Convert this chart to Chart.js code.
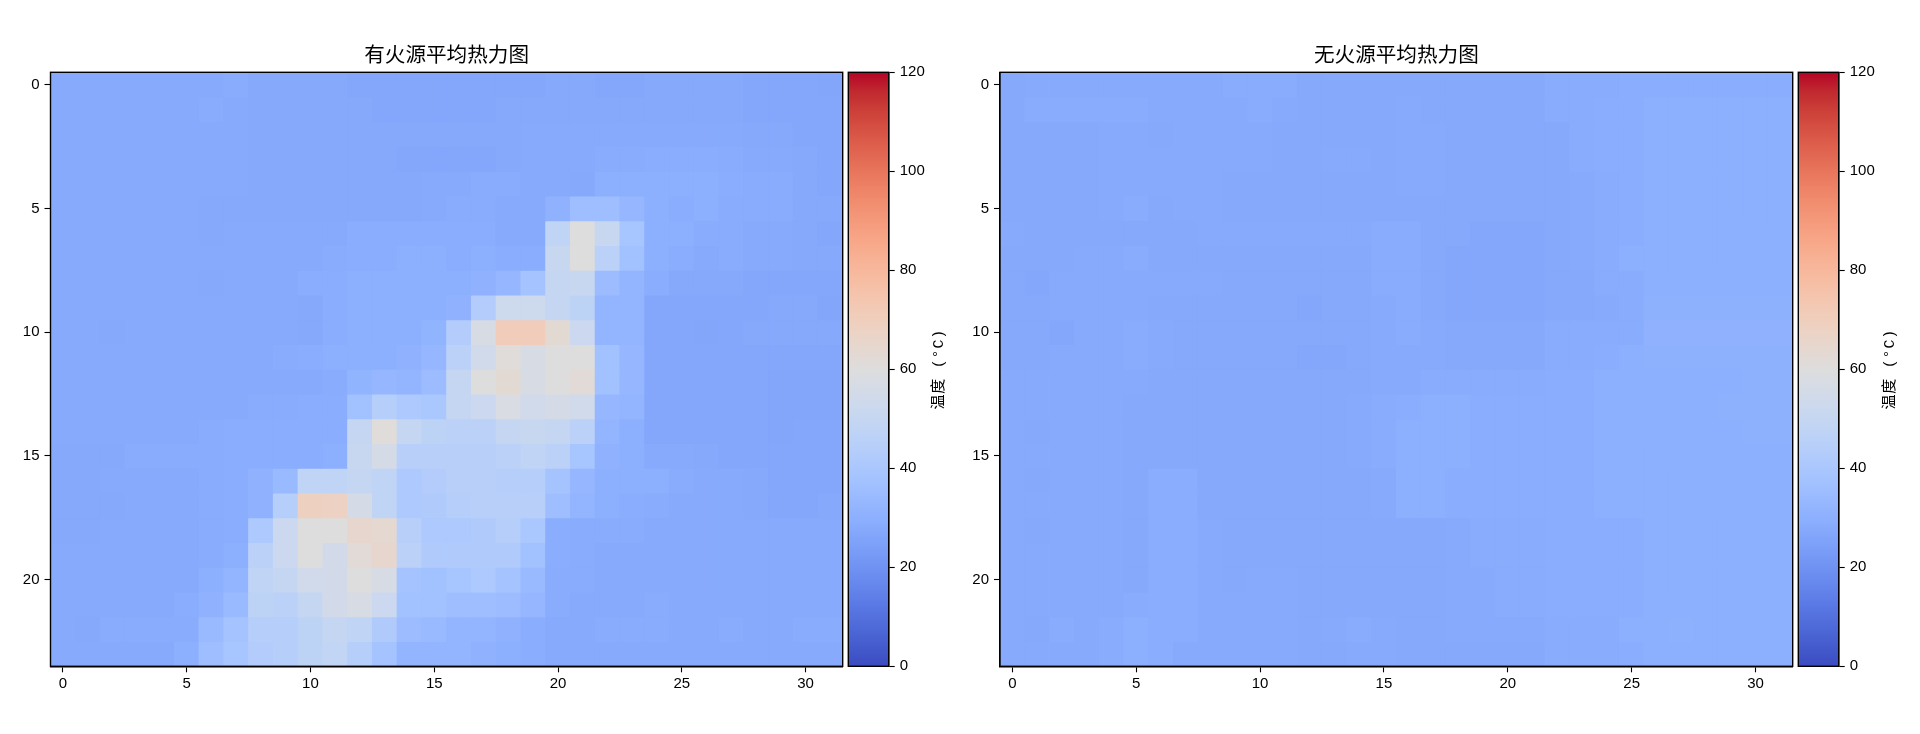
<!DOCTYPE html>
<html><head><meta charset="utf-8">
<script src="https://cdn.jsdelivr.net/npm/chart.js@4"></script>
<style>
html,body{margin:0;padding:0;background:#fff;width:1920px;height:734px;overflow:hidden}
canvas{position:absolute;top:0}
</style></head><body>
<canvas id="fireMap" style="left:0;width:846px;height:734px" width="846" height="734"></canvas>
<canvas id="fireBar" style="left:846px;width:114px;height:734px" width="114" height="734"></canvas>
<canvas id="noFireMap" style="left:960px;width:836px;height:734px" width="836" height="734"></canvas>
<canvas id="noFireBar" style="left:1796px;width:124px;height:734px" width="124" height="734"></canvas>
<script>
const fireTitle = '有火源平均热力图';
const noFireTitle = '无火源平均热力图';
const colorbarLabel = '温度 (°C)';
const xCategories = Array.from({length:32},(_,i)=>String(i));
const xTickValues = [0,5,10,15,20,25,30];
const yTickValues = [0,5,10,15,20];
const colorbarTicks = [0,20,40,60,80,100,120];
const tempMin = 0, tempMax = 120;
const coolwarm = [[59,76,192],[68,90,204],[77,104,215],[87,117,225],[98,130,234],[108,142,241],[119,154,247],[130,165,251],[141,176,254],[152,185,255],[163,194,255],[174,201,253],[184,208,249],[194,213,244],[204,217,238],[213,219,230],[221,221,221],[229,216,209],[236,211,197],[241,204,185],[245,196,173],[247,187,160],[247,177,148],[247,166,135],[244,154,123],[241,141,111],[236,127,99],[229,112,88],[222,96,77],[213,80,66],[203,62,56],[192,40,47],[180,4,38]];

const fireRows = [
[28,28,28,28,28,28,28,28.5,27.5,27.5,27.5,27.5,27,27,27,27,27,27,27,27,27.5,27.5,27,27,27.5,27.5,27.5,27.5,27,27,27,26.5],
[28,28,28,28,28,28,28.5,28,27.5,27.5,27.5,27.5,27.5,27,27,27,27,27,27.5,27.5,27.5,27.5,27.5,27.5,27.5,27.5,27.5,27.5,27,27,27,27],
[28,28,28,28,28,28,28,28,27.5,27.5,27.5,27.5,27.5,27.5,27.5,27.5,27.5,27.5,27.5,28,28,28,28,28,28,28,28,28,27.5,27.5,27,27],
[28,28,28,28,28,28,28,28,27.5,27.5,27.5,27.5,27.5,27.5,27,27,27,27,27.5,28,28,28,28.5,28.5,29,29,29,28.5,28,28,27.5,27],
[28,28,28,28,28,28,28,28,27.5,27.5,27.5,27.5,27.5,27.5,27.5,28,28,28.5,28.5,28,28,27.5,29.5,29.5,29.5,29.5,29.5,29,28.5,28.5,27.5,27],
[28,28,28,28,28,28,27.5,27.5,27.5,27.5,27.5,27.5,27.5,27.5,27.5,28,28.5,28.5,28,28,31,36,36,33,29.5,29,29.5,28.5,28.5,28.5,27.5,27.5],
[28,28,28,28,28,28,27.5,28,28,28,28,28,29,29,29,29,29,29,28,28,48,60,51,39,29.5,29.5,28.5,28.5,28,28,27.5,27],
[28,28,28,28,28,28,28,28,28,28,28,28.5,29,29,29.5,29.5,29,29.5,29,29,51,60,46,37,29.5,29,28,28.5,28,28,27.5,27.5],
[28,28,28,28,28,28,27.5,28,28,28,29,29,29.5,29.5,30,30,30,31,33,38,50,51,35,32,29,27.5,27.5,27.5,27,27,27,27],
[28,28,28,28,28,28,28,28,28,28,27.5,29,29.5,29.5,30,30,31,43,53,53,50,47,32,32,27,27,27,27,27,27.5,27.5,26.5],
[28,28,27.5,28,28,28,28,28,28,28,27.5,29,29.5,29.5,30,31.5,43,57,71,71,63,52,32,32,27,27,26.5,27,27.5,27.5,27.5,27.5],
[28,28,28,28,28,28,28,28,28,28.5,29,29.5,29.5,30,31,33,46,54,61,57,60,60,37,33,27,27,27,27,27,27,27,27],
[28,28,28,28,28,28,28,28,28,28,28,28.5,31.5,33,32,35,50,60,63,57,60,62,37,33,27,27,27,27,27,26.5,26.5,26.5],
[28,28,28,28,28,28,28,28,28.5,28.5,29,29,37,44,41,40,50,52,58,54,56,54,33,32,27,27,27,27,27,26.5,26.5,26.5],
[28,28,28,28,28,28,28.5,29,29,29,29,29,50,61,50,47,46,46,50,51,50,46,32,30,27,27,27,27,27,26.5,27,27],
[27.5,27.5,27.5,28.5,28.5,28.5,28.5,29,29,29,29,29.5,51,56,45,45,45,45,46,48,46,39,31,30,28,28,27.5,27,27,27,27,27],
[27.5,27.5,28,28,28,28,28.5,29,31,34,48,48,50,48,41,43,45,45,44,44,38,33,29.5,29.5,29.5,28.5,28,28,27.5,27,27,27],
[27.5,27.5,27.5,28,28,28,28.5,29,31,44,69,68,56,48,41,42,44,45,45,45,36,32,29.5,29,28.5,28,28,28,27.5,27,27,27.5],
[27.5,27.5,28,28,28,28,28.5,29,41,52,60,60,65,64,45,41,41,42,44,40,29,28.5,28.5,28.5,28,28,28,28,28,28,28,28],
[28,28,28,28,28,28,28.5,29.5,46,52,60,55,62,65,46,42,42,42,42,37,29,28.5,28,28,28,28,28,28,28,28,28,28],
[28,28,28,28,28,28,30,32,48,50,54,55,60,57,38,37,39,41,38,34,28.5,28.5,28,28,28,28,28,28,28,28,28,28],
[28,28,28,28,28,29,31,34,47,46,50,55,57,52,37,37,36,36,35,33,28.5,28,28,28,28.5,28,28,28,28,28,28,28],
[28,27.5,28.5,28.5,28.5,28.5,34,38,44,44,47,50,48,42,35,34,32,32,31,29,28,28,28.5,28.5,28.5,28,28,28.5,28,28,28.5,28.5],
[28,28,28,28,28,29.5,36,39,43,44,47,49,44,38,32,32,32,31,30,29,28,28,28,28,28,28,28,28,28,28,28,28]
];

const noFireRows = [
[27.5,28,28,28,28,28,28,28,28,28.5,28.5,28.5,27.5,27.5,27.5,27.5,27.5,27.5,27.5,27.5,27.5,27.5,28.5,28.5,28.5,29,29,29,29,29,29,29],
[27.5,28.5,28.5,28.5,28.5,28.5,28,28,28,28,28.5,28,27.5,27.5,27.5,27.5,28,27.5,27.5,27.5,27.5,27.5,28.5,28.5,29,29,29.5,29.5,29.5,29.5,29.5,29.5],
[27.5,27.5,27.5,27.5,28,28,27.5,28,28,28,28,27.5,27.5,27.5,27.5,27.5,28,28,27.5,27.5,27.5,27.5,27.5,28.5,29,29,29.5,29.5,29.5,29.5,29.5,29.5],
[27.5,27.5,27.5,27.5,28,28,28,28,28,28,28,27.5,27.5,28,28,27.5,28,28,27.5,27.5,27.5,27.5,27.5,28.5,29,29,29.5,29.5,29.5,29.5,29.5,29.5],
[27.5,27.5,27.5,27.5,28,28,28,28,28,27.5,27.5,27.5,27.5,27.5,27.5,27.5,28,28,27.5,27.5,27.5,27.5,27.5,28,28.5,29,29.5,29.5,29.5,29.5,29.5,29.5],
[27.5,27.5,27.5,27.5,28,28.5,27.5,28,28,27.5,27.5,27.5,27.5,27.5,27.5,27.5,27.5,27.5,27.5,27.5,27.5,27.5,27.5,28,28.5,29,29.5,29.5,29.5,29.5,29.5,29.5],
[28,27.5,27.5,27.5,27.5,27.5,27.5,27.5,28,28,28,28,28,28,28,28.5,28.5,27.5,27.5,27,27,27,27.5,28,28.5,29,29.5,29.5,29.5,29.5,30,30],
[27.5,27.5,27.5,28,28,28.5,27.5,27.5,27.5,27.5,27.5,27.5,27.5,27.5,27.5,28.5,28.5,27.5,27,27,27,27,27.5,28,28.5,29.5,29.5,29.5,29.5,30,30,30],
[27.5,27,28,28,28,28,28,28,28,27.5,27.5,27.5,27.5,27.5,27.5,28.5,28.5,27.5,27,27,27,27,27.5,27.5,28.5,28.5,29.5,30,30,30,30,30],
[27.5,27.5,28,28,28,28,27.5,27.5,27.5,27.5,27.5,27.5,27,27.5,27.5,28,28.5,27.5,27,27,27,27,27.5,27.5,28,28.5,30.5,30.5,30.5,30.5,30.5,30.5],
[27.5,27.5,27,28,28,28.5,28,27.5,27.5,27.5,27.5,27.5,27.5,27.5,27.5,28,28.5,28,27.5,27.5,27.5,27.5,28.5,28.5,28.5,28.5,31,31,31,31,31,31],
[27.5,27.5,28,28,28,28.5,28,27.5,27.5,27.5,27.5,27.5,27,27,27.5,28,28,28,27.5,27.5,27.5,27.5,28.5,28.5,29,29.5,30.5,30.5,30.5,30.5,30.5,30.5],
[28,28,28,28,28,28,27.5,27.5,27.5,27.5,27.5,27.5,27.5,27.5,27.5,28,28,28.5,28.5,28.5,28.5,28.5,29,29,29.5,29.5,30,30,30,30,30.5,30.5],
[28,28,28,28,28,27.5,27.5,27.5,27.5,27.5,27.5,27.5,27.5,27.5,28,28.5,29,29.5,29.5,29,29,29,29,29,29.5,29.5,30,30,30,30.5,30.5,30.5],
[28,27.5,28,28,28,27.5,27.5,27.5,27.5,27.5,27.5,27.5,27.5,27.5,28,28.5,29.5,29.5,29.5,29,29,29,29,29,29.5,29.5,30,30,30,30,30.5,30.5],
[28,28,28,28,28,27.5,27.5,27.5,27.5,27.5,27.5,27.5,27.5,27.5,28,28.5,29.5,29.5,29.5,29,29,29,29,29,29.5,29.5,29.5,30,30,30,30,30],
[28,27.5,28,28,28,27.5,29,29,27.5,27.5,27.5,27.5,27.5,27.5,27.5,28,29.5,29.5,29,29,29,29,29,29,29.5,29.5,29.5,29.5,30,30,30,30],
[28,28,28,28,28,27.5,29,29,27.5,27.5,27.5,27.5,27.5,27.5,27.5,28,29.5,29.5,29,29,29,29,29,29,29.5,29.5,29.5,29.5,30,30,30,30],
[28,27.5,28,28,28,27.5,29,29,28,27.5,27.5,27.5,27.5,27.5,27.5,27.5,27.5,27.5,28,28.5,28.5,28.5,29,29,29,29,29.5,29.5,29.5,29.5,30,30],
[28,28,28,28,28,27.5,29,29,28,27.5,27.5,27.5,27.5,27.5,27.5,27.5,27.5,27.5,28,28.5,28.5,28.5,29,29,29,29,29.5,29.5,29.5,29.5,30,30],
[28,28,28,28,28,27.5,29,29,28,27.5,28,28,27.5,27.5,27.5,27.5,27.5,27.5,28,28,28.5,28.5,29,29,29,29,29.5,29.5,29.5,30,30,30],
[28,28,28,28,28,28.5,29,29,28,28,28,28,27.5,27.5,27.5,27.5,27.5,27.5,28,28,28.5,28.5,29,29,29,29,30,29.5,29.5,29.5,30,30],
[28,27.5,28.5,28,28.5,29.5,29,29,28,28,28,28,27.5,28,28.5,28,27.5,27.5,28,28,28,28,28.5,28.5,28.5,29.5,30,30.5,29.5,29.5,30,30],
[28,28,28,28,28.5,29.5,29,28,28,28,28,28,27.5,27.5,28,28,27.5,27.5,27.5,27.5,27.5,27.5,28.5,28.5,28.5,29,30,30,29.5,29.5,30,30]
];

function lerpColor(v){
  const t=Math.max(0,Math.min(1,(v-tempMin)/(tempMax-tempMin)))*(coolwarm.length-1);
  const i=Math.min(coolwarm.length-2,Math.floor(t)),f=t-i,a=coolwarm[i],b=coolwarm[i+1];
  return `rgb(${a.map((c,k)=>Math.round(c+(b[k]-c)*f)).join(',')})`;
}
const TICK_FONT={family:'"Liberation Sans",Arial,sans-serif',size:15};
const framePlugin={id:'frame',afterDraw(chart){
  const {ctx,chartArea:a}=chart;ctx.save();ctx.strokeStyle='#000';ctx.lineWidth=1.4;
  ctx.strokeRect(a.left,a.top,a.right-a.left,a.bottom-a.top);ctx.restore();}};
Chart.defaults.devicePixelRatio=1;

function heatmap(id,rows,title,yWidth,padRight){
  return new Chart(document.getElementById(id),{
    type:'bar',
    data:{labels:xCategories,datasets:rows.map((vals,r)=>({
      label:'row '+r,
      data:vals.map(()=>[r-0.5,r+0.5]),
      backgroundColor:vals.map(lerpColor),
      borderWidth:0,inflateAmount:0.4,
      barPercentage:1,categoryPercentage:1
    }))},
    options:{
      responsive:false,animation:false,events:[],
      layout:{padding:{right:padRight,left:0,top:0,bottom:0}},
      plugins:{legend:{display:false},tooltip:{enabled:false},
        title:{display:true,text:title,color:'#000',fullSize:false,
          font:{family:'"Noto Sans CJK SC",sans-serif',size:20.6,weight:'normal'},
          padding:{top:42.3,bottom:5.28}}},
      scales:{
        x:{type:'category',stacked:true,offset:true,
          grid:{offset:false,drawOnChartArea:false,tickLength:6,tickColor:'#000',tickWidth:1.1},
          border:{color:'#000',width:1.4},
          ticks:{autoSkip:false,maxRotation:0,minRotation:0,color:'#000',font:TICK_FONT,padding:3,
            callback(v){const n=Number(this.getLabelForValue(v));return xTickValues.includes(n)?String(n):null;}},
          afterFit(s){s.height=67.7;}},
        y:{type:'linear',reverse:true,min:-0.5,max:rows.length-0.5,stacked:false,
          grid:{drawOnChartArea:false,tickLength:6,tickColor:'#000',tickWidth:1.1},
          border:{color:'#000',width:1.4},
          afterBuildTicks(s){s.ticks=yTickValues.map(v=>({value:v}));},
          ticks:{color:'#000',font:TICK_FONT,padding:5},
          afterFit(s){s.width=yWidth;}}
      }
    },
    plugins:[framePlugin]
  });
}
function colorbar(id,padLeft,scaleWidth,labelX){
  const labelPlugin={id:'cbLabel',afterDraw(chart){
    const {ctx,chartArea:a}=chart;ctx.save();
    ctx.translate(labelX,(a.top+a.bottom)/2);ctx.rotate(-Math.PI/2);
    ctx.font='15px "Liberation Mono","Noto Sans CJK SC",sans-serif';ctx.fillStyle='#000';
    ctx.letterSpacing='0.8px';
    ctx.textAlign='center';ctx.textBaseline='middle';
    ctx.fillText(colorbarLabel,0,0);ctx.restore();}};
  return new Chart(document.getElementById(id),{
    type:'bar',
    data:{labels:['温度'],datasets:[{data:[[tempMin,tempMax]],borderWidth:0,barPercentage:1,categoryPercentage:1,
      backgroundColor(c){
        const {chart}=c;const y=chart.scales.y;if(!y||!chart.chartArea)return '#888';
        const g=chart.ctx.createLinearGradient(0,y.getPixelForValue(tempMin),0,y.getPixelForValue(tempMax));
        coolwarm.forEach((p,i)=>g.addColorStop(i/(coolwarm.length-1),`rgb(${p.join(',')})`));
        return g;}}]},
    options:{
      responsive:false,animation:false,events:[],
      layout:{padding:{left:padLeft,right:0,top:72.3,bottom:67.7}},
      plugins:{legend:{display:false},tooltip:{enabled:false},title:{display:false}},
      scales:{
        x:{display:false,offset:true},
        y:{type:'linear',position:'right',min:tempMin,max:tempMax,
          grid:{drawOnChartArea:false,tickLength:6,tickColor:'#000',tickWidth:1.1},
          border:{color:'#000',width:1.4},
          afterBuildTicks(s){s.ticks=colorbarTicks.map(v=>({value:v}));},
          ticks:{color:'#000',font:TICK_FONT,padding:5},
          afterFit(s){s.width=scaleWidth;}}
      }
    },
    plugins:[framePlugin,labelPlugin]
  });
}
heatmap('fireMap',fireRows,fireTitle,50.5,3.3);
colorbar('fireBar',2.3,71.3,93);
heatmap('noFireMap',noFireRows,noFireTitle,40,3.3);
colorbar('noFireBar',2.3,81.3,94);
</script>
</body></html>
